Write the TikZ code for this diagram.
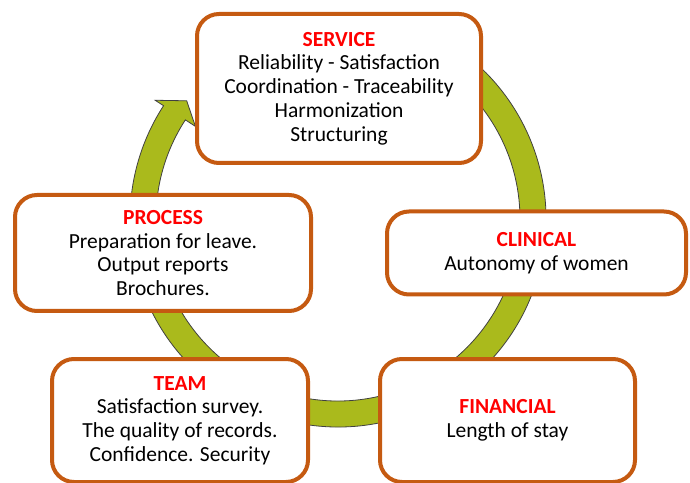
\documentclass[tikz,border=0pt]{standalone}
\usepackage{fontspec}
\setmainfont{Carlito}
\usetikzlibrary{shapes}
\usetikzlibrary{arrows}
\definecolor{boxline}{RGB}{197,90,17}
\definecolor{ringgreen}{RGB}{170,186,28}

\begin{document}
\begin{tikzpicture}[x=1pt,y=1pt,
	area/.style={draw=boxline,line width=4pt,rounded corners=22pt,fill=white,align=center,inner sep=0pt,font=\fontsize{21.5}{23.8}\selectfont},
	head/.style={text=red,font=\bfseries}]
		\clip (0,0) rectangle (690,482);
		\begin{scope}[shift={(338,263)}]
			\filldraw[fill=ringgreen,draw=black!75,line width=0.8pt]
				(80:208) arc[start angle=80,end angle=-213,radius=208]
				-- (147:218) -- (142:192) -- (147:170) -- (147:182)
				arc[start angle=147,end angle=440,radius=182] -- cycle;
		\end{scope}
		\node[area,minimum width=284pt,minimum height=149pt] (service) at (339,393.5)
			{\textcolor{red}{\textbf{SERVICE}}\\Reliability - Satisfaction\\Coordination - Traceability\\Harmonization\\Structuring};
		\node[area,minimum width=299pt,minimum height=83pt] (clinical) at (536.5,229)
			{\textcolor{red}{\textbf{CLINICAL}}\\Autonomy of women};
		\node[area,minimum width=296pt,minimum height=116pt] (process) at (163,229)
			{\textcolor{red}{\textbf{PROCESS}}\\Preparation for leave.\\Output reports\\Brochures.};
		\node[area,minimum width=256pt,minimum height=123pt] (team) at (180,61.5)
			{\textcolor{red}{\textbf{TEAM}}\\Satisfaction survey.\\The quality of records.\\Confidence. Security};
		\node[area,minimum width=255pt,minimum height=123pt] (financial) at (507.5,61.5)
			{\textcolor{red}{\textbf{FINANCIAL}}\\Length of stay};
\end{tikzpicture}
\end{document}
